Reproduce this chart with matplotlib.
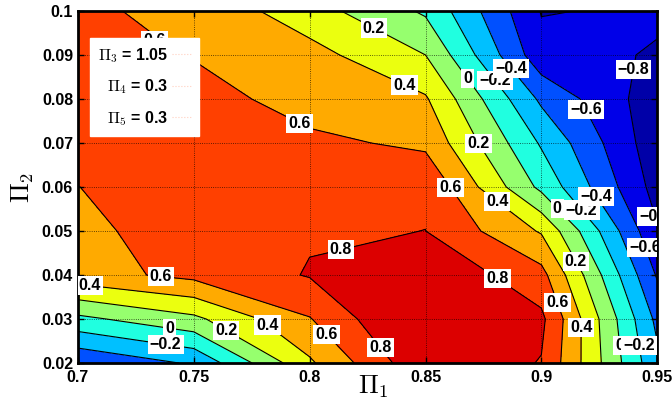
import numpy as np
import matplotlib
matplotlib.use("Agg")
import matplotlib.pyplot as plt
from matplotlib.lines import Line2D

# grid of the response surface
pi1 = [0.70, 0.75, 0.80, 0.85, 0.90, 0.95]
pi2 = [0.02, 0.03, 0.04, 0.05, 0.06, 0.07, 0.08, 0.09, 0.10]

z_002 = [-0.58, -0.374, 0.369, 0.97, 0.79, -0.35]
z_003 = [-0.05, 0.153, 0.589, 1.10, 0.844, -0.45]
z_004 = [0.52, 0.655, 0.813, 0.98, 0.667, -0.62]
z_005 = [0.56, 0.679, 0.781, 0.801, 0.38, -0.78]
z_006 = [0.598, 0.70, 0.74, 0.776, -0.05, -0.88]
z_007 = [0.68, 0.70, 0.65, 0.556, -0.224, -0.93]
z_008 = [0.72, 0.70, 0.50, 0.422, -0.438, -0.92]
z_009 = [0.72, 0.585, 0.47, 0.20, -0.733, -0.815]
z_010 = [0.63, 0.552, 0.286, -0.03, -0.81, -0.774]

levels = [-0.8, -0.6, -0.4, -0.2, 0.0, 0.2, 0.4, 0.6, 0.8]
legend_labels = [r"$\Pi_3$ = 1.05", r"$\Pi_4$ = 0.3", r"$\Pi_5$ = 0.3"]

# where the inline labels sit (data coords)
label_pos = [(0.7335, 0.0945), (0.7959, 0.0748), (0.8282, 0.0966), (0.8412, 0.0834),
             (0.8675, 0.0843), (0.8800, 0.0843), (0.8874, 0.0870), (0.9418, 0.0866),
             (0.9150, 0.0764), (0.8736, 0.0702), (0.8589, 0.0591), (0.8805, 0.0564),
             (0.9047, 0.0541), (0.9159, 0.0541), (0.9245, 0.0582), (0.9470, 0.0530),
             (0.9418, 0.0457), (0.9146, 0.0430), (0.8136, 0.0455), (0.8792, 0.0377),
             (0.9064, 0.0336), (0.9167, 0.0280), (0.9319, 0.0239), (0.9418, 0.0239),
             (0.8295, 0.0230), (0.8071, 0.0264), (0.7794, 0.0270), (0.7635, 0.0270),
             (0.7397, 0.0280), (0.7376, 0.0234), (0.7358, 0.0396), (0.7052, 0.0380)]

band_colors = ["#0000A8", "#0000E8", "#0050FF", "#00C0FF", "#20FFE0",
               "#96FF6E", "#EBFF0F", "#FFAA00", "#FF4000", "#DC0000"]

Z = np.array([z_002, z_003, z_004, z_005, z_006, z_007, z_008, z_009, z_010])

plt.rcParams["font.family"] = ["Liberation Sans", "DejaVu Sans"]
plt.rcParams["font.weight"] = "bold"
plt.rcParams["mathtext.fontset"] = "cm"


def fmt(v):
    s = f"{v:.1f}"
    if s in ("0.0", "-0.0"):
        return "0"
    return s.replace("-", "\u2212")


fig = plt.figure(figsize=(6.72, 4.07), dpi=100)
ax = fig.add_axes([0.116, 0.108, 0.862, 0.865])

ax.contourf(pi1, pi2, Z, levels=[-5] + levels + [5], colors=band_colors)
cs = ax.contour(pi1, pi2, Z, levels=levels, colors="k", linewidths=0.8,
                negative_linestyles="solid")
texts = ax.clabel(cs, levels, manual=label_pos, inline=False, fmt=fmt, fontsize=11.5)
for t in texts:
    t.set_rotation(0)
    t.set_fontweight("bold")
    t.set_bbox(dict(facecolor="white", edgecolor="none", pad=1.5))
    t.set_zorder(5)
# the top-left label is half tucked under the legend box
texts[0].set_position((0.7330, 0.0932))

ax.set_xlim(0.7, 0.95)
ax.set_ylim(0.02, 0.1)
ax.set_xticks(pi1)
ax.set_xticklabels(["0.7", "0.75", "0.8", "0.85", "0.9", "0.95"])
ax.set_yticks(pi2)
ax.set_yticklabels(["0.02", "0.03", "0.04", "0.05", "0.06", "0.07", "0.08", "0.09", "0.1"])
ax.tick_params(direction="in", top=True, right=True, length=4, width=1, labelsize=11.5)
ax.tick_params(axis="x", pad=5)
ax.grid(True, linestyle=":", color="k", linewidth=0.6, alpha=0.8)
ax.set_axisbelow(False)
for sp in ax.spines.values():
    sp.set_linewidth(2)

ax.set_xlabel(r"$\Pi_1$", fontsize=19)
ax.xaxis.set_label_coords(0.51, -0.03)
ax.set_ylabel(r"$\Pi_2$", fontsize=19, labelpad=4)

handles = [Line2D([], [], color="#ffd0c0", ls=":", lw=0.8) for _ in legend_labels]
leg = ax.legend(handles, legend_labels, loc="upper left", bbox_to_anchor=(0.021, 0.923),
                markerfirst=False, handlelength=1.2, handletextpad=0.2,
                frameon=True, fancybox=False, framealpha=1, edgecolor="white",
                borderaxespad=0, labelspacing=0.8, borderpad=0.5,
                prop={"size": 11.5, "weight": "bold"})
leg.set_zorder(10)

fig.savefig("out.png", dpi=100)
